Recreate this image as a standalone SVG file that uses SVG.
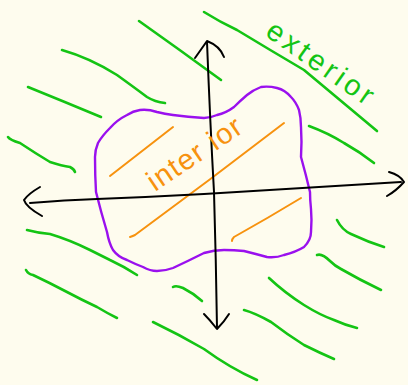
<svg xmlns="http://www.w3.org/2000/svg" width="408" height="385" viewBox="0 0 408 385">
<style>
.g{fill:none;stroke:#14C414;stroke-width:2.6;stroke-linecap:round;stroke-linejoin:round}
.k{fill:none;stroke:#000;stroke-width:2;stroke-linecap:round;stroke-linejoin:round}
.p{fill:none;stroke:#9A10EE;stroke-width:2.4;stroke-linecap:round;stroke-linejoin:round}
.o{fill:none;stroke:#F7920E;stroke-width:2;stroke-linecap:round;stroke-linejoin:round}
.t{font-family:"Liberation Sans",Arial,sans-serif;font-size:29px}
</style>
<rect width="408" height="385" fill="#FEFCEE"/>
<g id="exterior-hatching">
<path class="g" d="M139,21 Q180,50 221,80"/>
<path class="g" d="M62,50 Q90,58 117,75 Q135,88 147,97 Q155,102 165,103"/>
<path class="g" d="M28,87 Q65,102 101,117"/>
<path class="g" d="M8,137 Q10,140 20,143 Q35,153 50,162 Q62,166 70,167 Q74,169 75,172"/>
<path class="g" d="M204,12 Q220,22 237,30 Q270,50 304,70 Q340,100 377,131"/>
<path class="g" d="M309,126 Q328,133 344,143 Q360,152 374,163"/>
<path class="g" d="M337,220 Q342,230 351,234 Q368,242 384,247"/>
<path class="g" d="M317,255 Q322,253 330,261 Q335,266 341,269 Q360,280 381,290"/>
<path class="g" d="M269,278 Q285,293 304,305 Q320,315 334,320 Q345,325 357,328"/>
<path class="g" d="M244,310 Q255,313 271,322 Q288,335 304,345 Q320,353 334,359"/>
<path class="g" d="M153,322 Q180,335 204,349 Q230,368 257,380"/>
<path class="g" d="M27,230 Q38,233 50,234 Q70,240 90,250 Q100,255 110,260 Q125,267 137,275"/>
<path class="g" d="M26,270 Q28,274 33,275 Q50,283 67,292 Q82,300 97,307 Q107,313 117,318"/>
<path class="g" d="M173,287 Q176,285 183,288 Q193,293 202,301"/>
</g>
<g id="region-boundary">
<path class="p" d="M204,118 Q188,117 173,115 Q165,114 157,112 Q148,109 140,110 Q133,111 127,115 Q117,120 110,128 Q102,136 98,143 Q95,150 95,157 Q95,175 96,192 Q101,212 107,232 Q109,243 113,250 Q118,257 127,260 Q135,264 143,267 Q150,271 157,271 Q165,271 173,268 Q188,261 204,253 Q214,250 224,250 Q234,250 244,251 Q256,254 267,257 Q276,258 284,255 Q296,252 304,247 Q311,240 311,232 Q312,220 311,209 Q310,200 310,192 Q306,175 301,157 Q302,142 301,127 Q301,118 299,110 Q296,102 291,97 Q285,90 277,88 Q269,86 261,87 Q253,90 247,95 Q240,101 234,107 Q226,113 217,115 Q210,118 204,118 Z"/>
</g>
<g id="interior-hatching">
<path class="o" d="M110,176 L173,127"/>
<path class="o" d="M130,237 Q133,236 135,235 Q210,180 284,123"/>
<path class="o" d="M232,241 Q232,239 234,237 Q268,218 301,198"/>
</g>
<g id="connectors">
<path class="k" d="M207,42 Q210,120 214,192 Q216,260 217,328"/>
<path class="k" d="M195,58 L207,41 Q220,46 224,57"/>
<path class="k" d="M204,314 Q210,320 217,329 Q224,322 229,314"/>
<path class="k" d="M30,203 Q65,200 97,199 Q150,197 204,194 Q300,188 401,182"/>
<path class="k" d="M40,187 Q28,194 24,200 Q26,207 42,216"/>
<path class="k" d="M389,172 Q400,175 404,182 Q396,191 387,196"/>
</g>
<g id="label-exterior">
<text class="t" fill="#14C414" x="264" y="35" transform="rotate(35 264 35)" textLength="124" lengthAdjust="spacing">exterior</text>
</g>
<g id="label-interior">
<text class="t" fill="#F7920E" x="155" y="192" transform="rotate(-34 155 192)" textLength="108" lengthAdjust="spacing">inter ior</text>
</g>
</svg>
